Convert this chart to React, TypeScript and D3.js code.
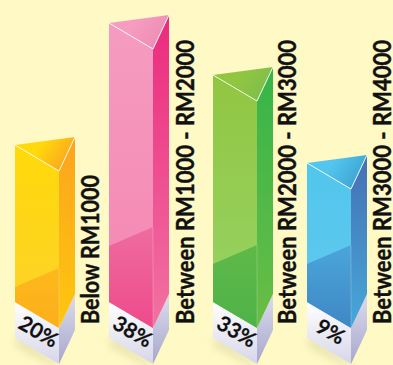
import { useEffect, useRef } from "react";
import * as d3 from "d3";

const CATEGORIES = ["Below RM1000", "Between RM1000 - RM2000", "Between RM2000 - RM3000", "Between RM3000 - RM4000"];
const VALUES = [20, 38, 33, 9];
const VALUE_LABELS = ["20%", "38%", "33%", "9%"];

// [top, shine stop, low front, low end, side top, side bottom, lid right]
const PALETTES = [
  ["#ffd90a", "#fdd22c", "#fdb91a", "#fcae1c", "#fba51e", "#ffc60e", "#fba81f"],
  ["#f59cc0", "#f585b1", "#ee6c9f", "#ee4a8b", "#ec2a7e", "#f172a2", "#ef8db5"],
  ["#92c641", "#97d468", "#5fb948", "#4eb248", "#36b54a", "#6abd45", "#7fbf4a"],
  ["#52c6ee", "#62c9eb", "#4aa6da", "#3f87c5", "#4570b5", "#46a8d8", "#3fa5d3"],
];

const WIDTH = 393;
const HEIGHT = 365;
const BAR_FRONT = 44;
const BAR_SIDE = 16;
const FRONT_DROP = 26;
const SIDE_RISE = 34;
const BASE_HEIGHT = 36;
const FLOOR_Y = 302;

export default function App() {
  const svgRef = useRef<SVGSVGElement>(null);

  useEffect(() => {
    if (!svgRef.current) return;
    const svg = d3.select(svgRef.current);
    svg.selectAll("*").remove();
    svg.append("rect").attr("width", WIDTH).attr("height", HEIGHT).attr("fill", "#fef9c5");

    // bars are pictorial, so the heights follow the drawing and not a straight line
    const x = d3.scaleOrdinal<string, number>().domain(CATEGORIES).range([15, 109, 213, 307]);
    const y = d3.scaleLinear().domain([9, 20, 33, 38]).range([163, 145, 75, 23]);
    const shine = d3.scaleOrdinal<string, number>().domain(CATEGORIES).range([15, 56, 38, 38]);
    const labelX = d3.scaleOrdinal<string, number>().domain(CATEGORIES).range([99, 194, 296, 391]);
    const labelLength = d3.scaleOrdinal<string, number>().domain(CATEGORIES).range([149, 284, 284, 284]);
    const poly = (pts: [number, number][]) => d3.line()(pts) + "Z";

    const defs = svg.append("defs");
    const grad = (id: string, stops: [number, string][], x2 = 0, y2 = 1) => {
      const g = defs.append("linearGradient").attr("id", id).attr("x1", 0).attr("y1", 0).attr("x2", x2).attr("y2", y2);
      stops.forEach(([o, c]) => g.append("stop").attr("offset", o).attr("stop-color", c));
    };
    grad("baseFront", [[0, "#ffffff"], [1, "#d6d6ea"]]);
    grad("baseSide", [[0, "#dcdcee"], [1, "#a7a7cd"]]);
    defs.append("filter").attr("id", "blur").attr("x", "-40%").attr("y", "-40%").attr("width", "180%").attr("height", "180%")
      .append("feGaussianBlur").attr("stdDeviation", 5);

    CATEGORIES.forEach((cat, i) => {
      const c = PALETTES[i];
      const x0 = x(cat);
      const x1 = x0 + BAR_FRONT;
      const x2 = x1 + BAR_SIDE;
      const top = y(VALUES[i]);
      const s = shine(cat);
      const g = svg.append("g");

      grad(`front${i}`, [[0, c[0]], [1, c[1]]]);
      grad(`low${i}`, [[0, c[2]], [1, c[3]]]);
      grad(`side${i}`, [[0, c[4]], [1, c[5]]]);
      grad(`lid${i}`, [[0.45, c[0]], [1, c[6]]], 1, 0.4);

      // shadow on the floor
      g.append("path")
        .attr("d", poly([[x0 + 4, FLOOR_Y + BASE_HEIGHT], [x1, FLOOR_Y + FRONT_DROP + BASE_HEIGHT], [x1 - 4, FLOOR_Y + FRONT_DROP + BASE_HEIGHT + 2], [x0, FLOOR_Y + BASE_HEIGHT + 6]]))
        .attr("fill", "#8d8a5a")
        .attr("opacity", 0.3)
        .attr("filter", "url(#blur)");

      // base
      g.append("path")
        .attr("d", poly([[x0, FLOOR_Y], [x1, FLOOR_Y + FRONT_DROP], [x1, FLOOR_Y + FRONT_DROP + BASE_HEIGHT], [x0, FLOOR_Y + BASE_HEIGHT]]))
        .attr("fill", "url(#baseFront)");
      g.append("path")
        .attr("d", poly([[x1, FLOOR_Y + FRONT_DROP], [x2, FLOOR_Y + FRONT_DROP - SIDE_RISE], [x2, FLOOR_Y + FRONT_DROP - SIDE_RISE + BASE_HEIGHT], [x1, FLOOR_Y + FRONT_DROP + BASE_HEIGHT]]))
        .attr("fill", "url(#baseSide)");

      // front face
      g.append("path")
        .attr("d", poly([[x0, top], [x1, top + FRONT_DROP], [x1, FLOOR_Y + FRONT_DROP], [x0, FLOOR_Y]]))
        .attr("fill", `url(#front${i})`);
      // darker lower part of the glass
      g.append("path")
        .attr("d", poly([[x0, FLOOR_Y - s], [x1, FLOOR_Y - s - 19], [x1, FLOOR_Y + FRONT_DROP], [x0, FLOOR_Y]]))
        .attr("fill", `url(#low${i})`);
      // side face
      g.append("path")
        .attr("d", poly([[x1, top + FRONT_DROP], [x2, top + FRONT_DROP - SIDE_RISE], [x2, FLOOR_Y + FRONT_DROP - SIDE_RISE], [x1, FLOOR_Y + FRONT_DROP]]))
        .attr("fill", `url(#side${i})`);
      // faint edge between front and side
      g.append("path")
        .attr("d", d3.line()([[x1, FLOOR_Y - s - 19], [x1, FLOOR_Y + FRONT_DROP]]))
        .attr("stroke", "#fff")
        .attr("stroke-width", 0.6)
        .attr("opacity", 0.35);
      // lid
      g.append("path")
        .attr("d", poly([[x0, top], [x2, top + FRONT_DROP - SIDE_RISE], [x1, top + FRONT_DROP]]))
        .attr("fill", `url(#lid${i})`);
      g.append("path")
        .attr("d", d3.line()([[x0, top], [x1, top + FRONT_DROP], [x2, top + FRONT_DROP - SIDE_RISE]]))
        .attr("fill", "none")
        .attr("stroke", "#fff")
        .attr("stroke-width", 1)
        .attr("opacity", 0.85);

      // percent on the base
      g.append("text")
        .attr("transform", `translate(${x0 + 20},${FLOOR_Y + 36}) rotate(30)`)
        .attr("text-anchor", "middle")
        .attr("font-family", "Lato, sans-serif")
        .attr("font-weight", 700)
        .attr("font-size", 21)
        .attr("stroke", "#111")
        .attr("stroke-width", 0.2)
        .attr("fill", "#111")
        .text(VALUE_LABELS[i]);

      // category label
      g.append("text")
        .attr("transform", `translate(${labelX(cat)},324) rotate(-90)`)
        .attr("font-family", "Lato, sans-serif")
        .attr("font-weight", 700)
        .attr("font-size", 24)
        .attr("textLength", labelLength(cat))
        .attr("lengthAdjust", "spacingAndGlyphs")
        .attr("stroke", "#111")
        .attr("stroke-width", 0.4)
        .attr("fill", "#111")
        .text(cat);
    });
  }, []);

  return <svg ref={svgRef} width={WIDTH} height={HEIGHT} style={{ position: "absolute", left: 0, top: 0 }} />;
}
